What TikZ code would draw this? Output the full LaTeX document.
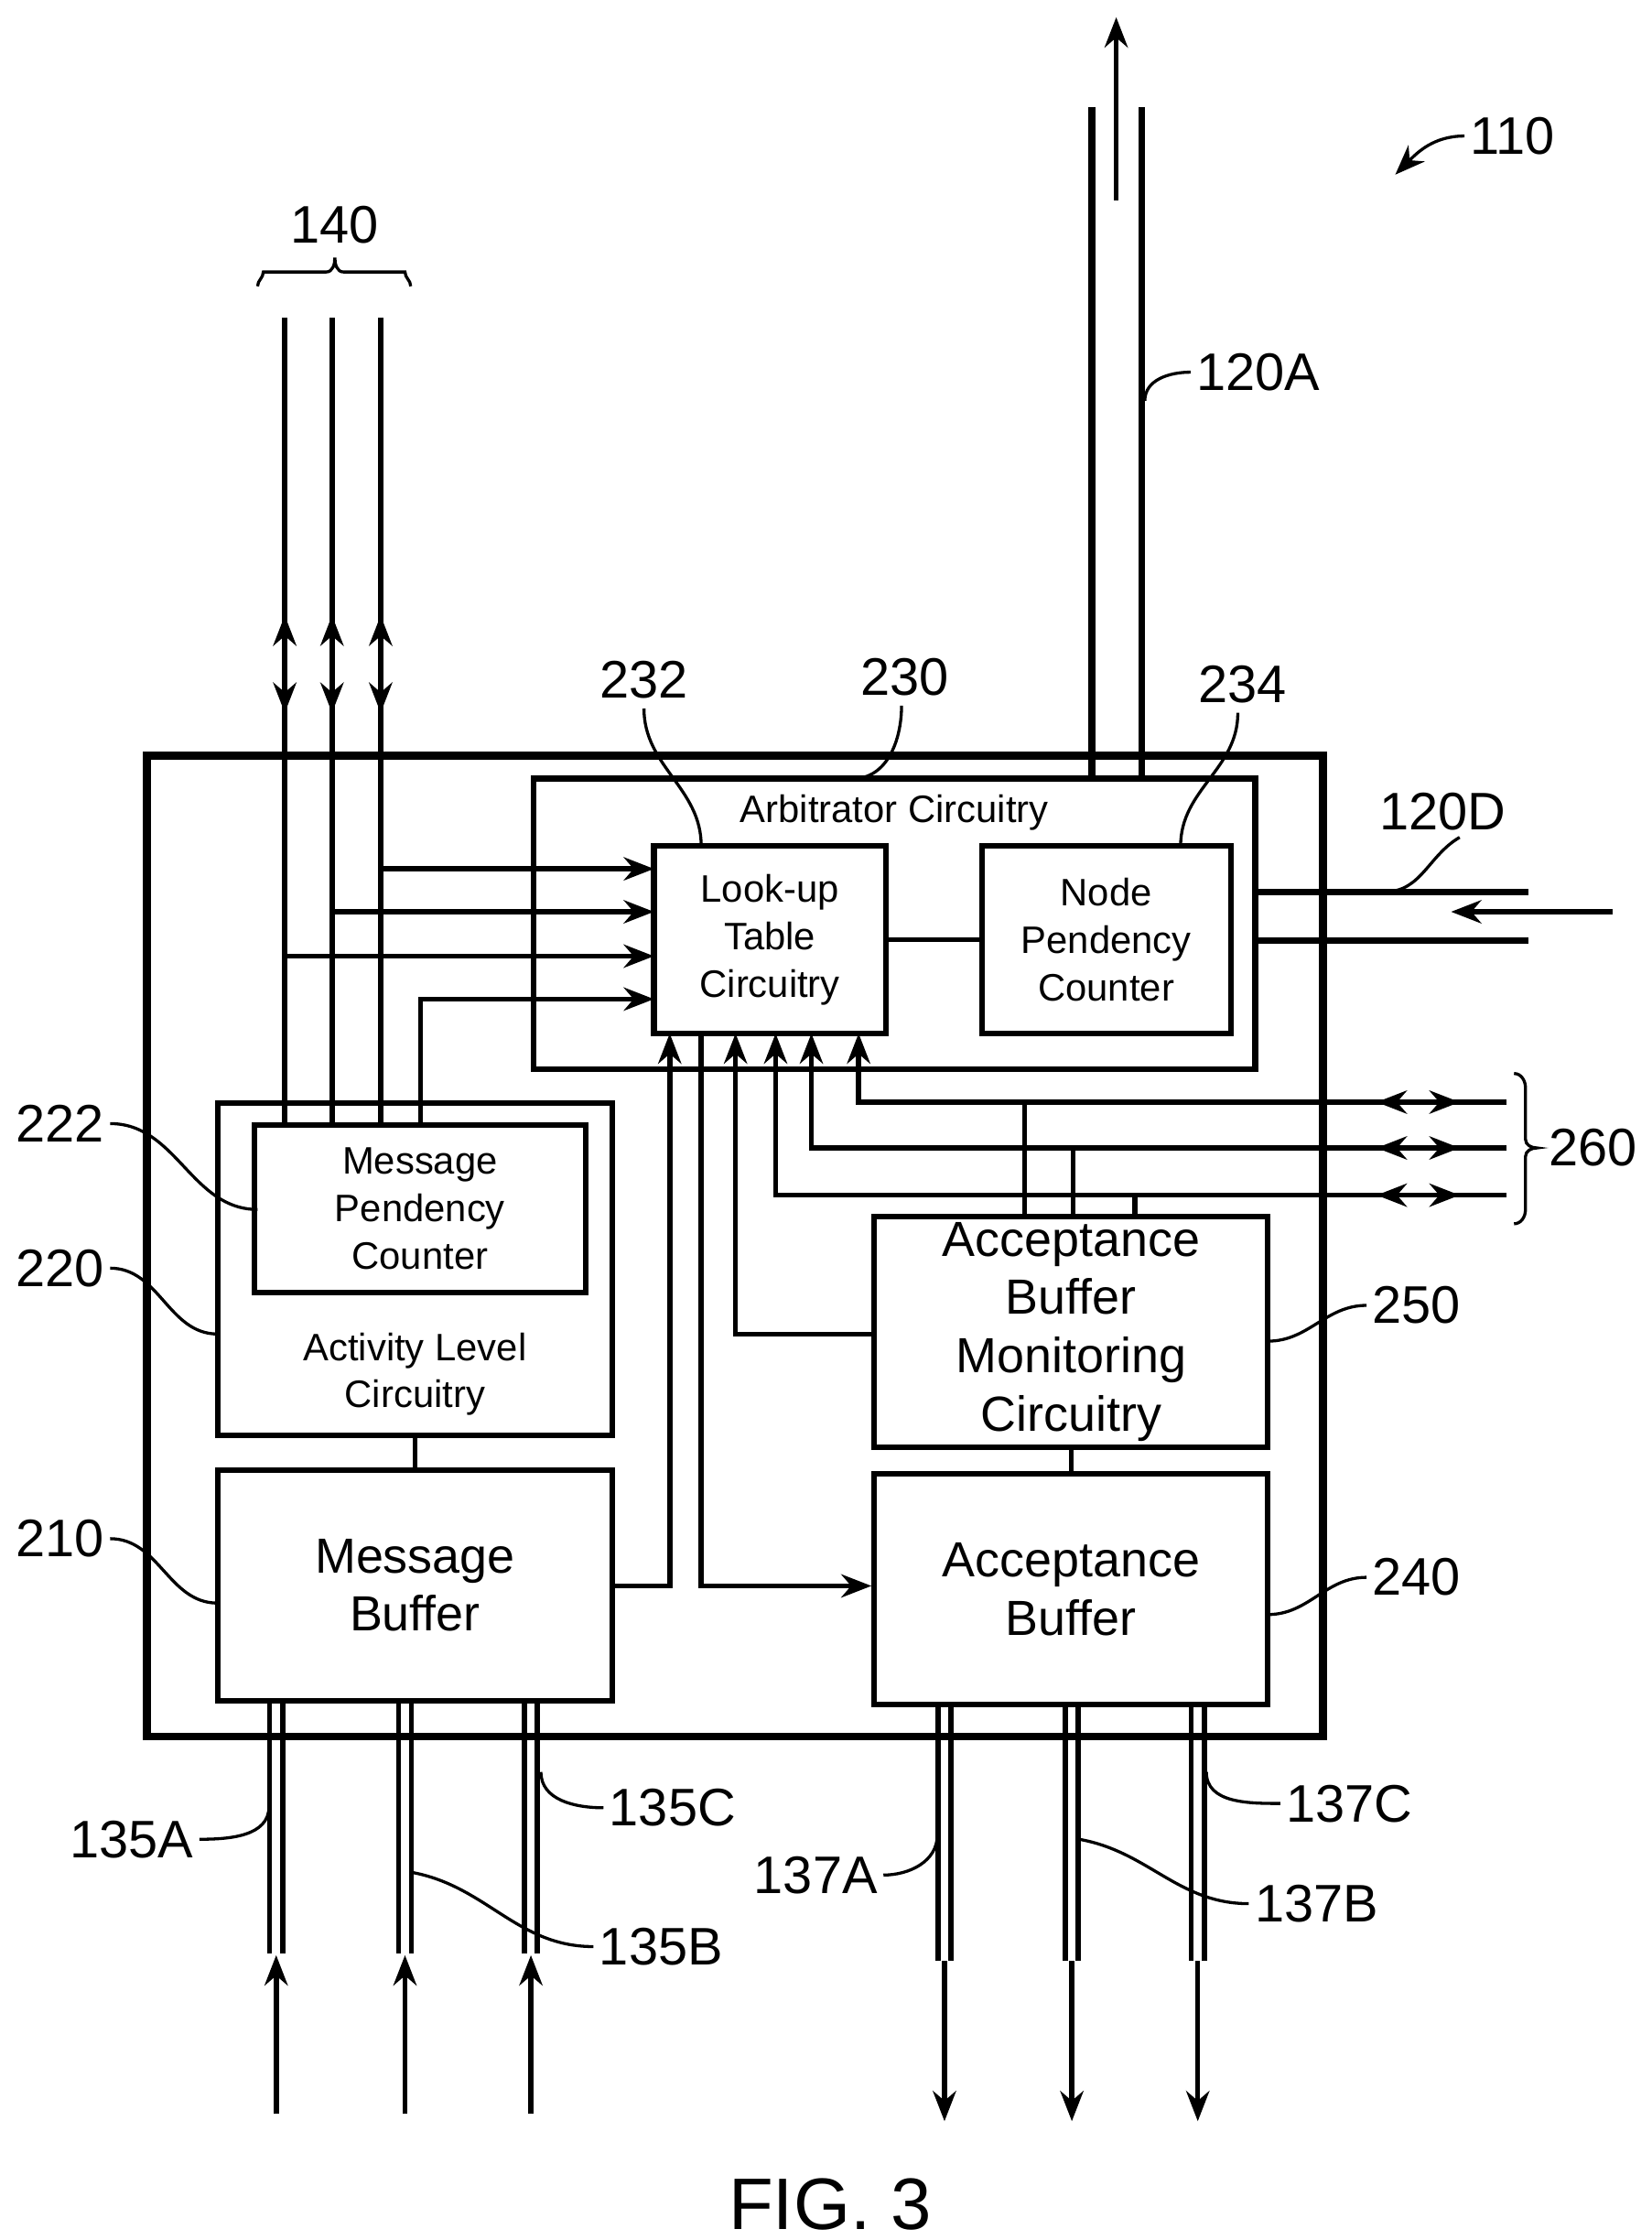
\documentclass[tikz,border=0pt]{standalone}
\usepackage{fontspec}
\setmainfont{Liberation Sans}
\usepackage{tikz}
\usetikzlibrary{calc, positioning, arrows.meta}
\tikzstyle{blk}=[draw, line width=1.1pt, inner sep=0pt, align=center, font=\fontsize{7.6}{9.4}\selectfont]
\tikzstyle{lbl}=[inner sep=1pt, font=\fontsize{10.5}{12}\selectfont]
\tikzstyle{ldr}=[line width=0.6pt]
\tikzstyle{bus}=[line width=1.3pt]
\tikzstyle{wire}=[line width=1pt]
\tikzset{>={Stealth[length=6pt,width=4.6pt]}}

\begin{document}
\begin{tikzpicture}[x=0.01cm, y=-0.01cm]
\useasboundingbox (0,0) rectangle (1154,1565);
% the blocks
\node[blk, line width=1.6pt, minimum width=8.21cm, minimum height=6.85cm] (node) at (513.5,870.5) {};
\node[blk, minimum width=5.04cm, minimum height=2.03cm] (arb) at (625,645.5) {};
\node[blk, draw=none, anchor=center] (arbT) at (625,568) {Arbitrator Circuitry};
\node[blk, minimum width=1.62cm, minimum height=1.31cm] (lut) at (538,656.5) {Look-up\\Table\\Circuitry};
\node[blk, minimum width=1.74cm, minimum height=1.31cm] (npc) at (773,656.5) {Node\\Pendency\\Counter};
\node[blk, minimum width=2.76cm, minimum height=2.32cm] (alc) at (290,887) {};
\node[blk, draw=none] (alcT) at (290,960) {Activity Level\\Circuitry};
\node[blk, minimum width=2.31cm, minimum height=1.17cm] (mpc) at (293.5,844.5) {Message\\Pendency\\Counter};
\node[blk, font=\fontsize{9.8}{11.6}\selectfont, minimum width=2.76cm, minimum height=1.61cm] (mb) at (290,1107.5) {Message\\Buffer};
\node[blk, font=\fontsize{9.8}{11.6}\selectfont, minimum width=2.75cm, minimum height=1.61cm] (abm) at (748.5,930.5) {Acceptance\\Buffer\\Monitoring\\Circuitry};
\node[blk, font=\fontsize{9.8}{11.6}\selectfont, minimum width=2.75cm, minimum height=1.61cm] (ab) at (748.5,1110.5) {Acceptance\\Buffer};
% links between blocks
\draw[wire] (lut.east) -- (npc.west);
\draw[wire] (alc.south) -- (mb.north);
\draw[wire] (abm.south) -- (ab.north);
% the 140 lines
\foreach \x/\n in {199/a, 232/b, 266/c} {
  \coordinate (t\n) at (\x,222);
  \draw[wire] (t\n) -- (\x,786);
  \draw[wire,->] (\x,462) -- (\x,430);
  \draw[wire,->] (\x,468) -- (\x,498);
}
\coordinate (r1) at (457,607);
\coordinate (r2) at (457,637);
\coordinate (r3) at (457,668);
\coordinate (r4) at (457,698);
\draw[wire,->] (266,607) -- (r1);
\draw[wire,->] (232,637) -- (r2);
\draw[wire,->] (199,668) -- (r3);
\draw[wire,->] (294,786) -- (294,698) -- (r4);
\draw[ldr] (180,200) to[out=90,in=-90] (184,190) -- (228,190) to[out=0,in=-90] (234,180) to[out=-90,in=180] (240,190) -- (283,190) to[out=-90,in=90] (287,200);
\node[lbl] (l140) at (234,157) {140};
% 120A
\draw[bus] (763,75) -- (763,544);
\draw[bus] (798,75) -- (798,544);
\draw[wire,->] (780,140) -- (780,12);
\node[lbl, anchor=west] (l120A) at (832,260) {120A};
\draw[ldr] (l120A.west) to[out=180,in=90] (800,280);
% 120D
\draw[bus] (arb.east |- 0,623) -- (1068,623);
\draw[bus] (arb.east |- 0,657) -- (1068,657);
\draw[wire,->] (1127,637) -- (1014,637);
\node[lbl, anchor=west] (l120D) at (960,567) {120D};
\draw[ldr] (1020,585) to[out=-150,in=0] (968,623);
% the 260 lines
\coordinate (u1) at (600,722);
\coordinate (u2) at (567,722);
\coordinate (u3) at (542,722);
\draw[wire,->] (1053,770) -- (600,770) -- (u1);
\draw[wire,->] (1053,802) -- (567,802) -- (u2);
\draw[wire,->] (1053,835) -- (542,835) -- (u3);
\foreach \y in {770,802,835} {
  \draw[wire,->] (990,\y) -- (962,\y);
  \draw[wire,->] (990,\y) -- (1020,\y);
}
\draw[wire] (716,850) -- (716,770);
\draw[wire] (750,850) -- (750,802);
\draw[wire] (793,850) -- (793,835);
\draw[ldr] (1058,750) to[out=0,in=90] (1066,760) -- (1066,796) to[out=-90,in=180] (1074,802) to[out=180,in=90] (1066,808) -- (1066,845) to[out=-90,in=0] (1058,855);
\node[lbl] (l260) at (1113,802) {260};
% buffer and monitor paths
\draw[wire,->] (abm.west |- 0,932) -- (514,932) -- (514,722);
\draw[wire,->] (mb.east |- 0,1108) -- (468,1108) -- (468,722);
\draw[wire,->] (490,722) -- (490,1108) -- (ab.west |- 0,1108);
% inputs 135
\foreach \x/\n in {193/A, 283/B, 371/C} {
  \draw[wire] (\x-4.5,1188) -- (\x-4.5,1365);
  \draw[wire] (\x+4.5,1188) -- (\x+4.5,1365);
  \coordinate (i\n) at (\x,1477);
  \draw[wire,->] (i\n) -- (\x,1366);
}
% outputs 137
\foreach \x/\n in {660/A, 749/B, 837/C} {
  \draw[wire] (\x-4.5,1191) -- (\x-4.5,1370);
  \draw[wire] (\x+4.5,1191) -- (\x+4.5,1370);
  \coordinate (o\n) at (\x,1482);
  \draw[wire,->] (\x,1370) -- (o\n);
}
% reference labels
\node[lbl] (l110) at (1057,95) {110};
\draw[ldr,->] (l110.west) to[out=180,in=45] (975,122);
\node[lbl] (l232) at (450,475) {232};
\draw[ldr] (450,495) to[out=-90,in=90] (490,591);
\node[lbl] (l230) at (632,473) {230};
\draw[ldr] (630,493) to[out=-90,in=0] (596,544);
\node[lbl] (l234) at (868,478) {234};
\draw[ldr] (865,498) to[out=-90,in=90] (825,591);
\node[lbl] (l222) at (42,785) {222};
\draw[ldr] (l222.east) to[out=0,in=180] (180,845);
\node[lbl] (l220) at (42,886) {220};
\draw[ldr] (l220.east) to[out=0,in=180] (152,932);
\node[lbl] (l210) at (42,1075) {210};
\draw[ldr] (l210.east) to[out=0,in=180] (152,1120);
\node[lbl] (l250) at (990,912) {250};
\draw[ldr] (886,937) to[out=0,in=180] (l250.west);
\node[lbl] (l240) at (990,1102) {240};
\draw[ldr] (886,1128) to[out=0,in=180] (l240.west);
\node[lbl] (l135A) at (92,1285) {135A};
\draw[ldr] (l135A.east) to[out=0,in=-90] (188,1262);
\node[lbl] (l135C) at (470,1263) {135C};
\draw[ldr] (l135C.west) to[out=180,in=-90] (378,1238);
\node[lbl] (l135B) at (462,1360) {135B};
\draw[ldr] (287,1308) to[out=-10,in=180] (l135B.west);
\node[lbl] (l137A) at (570,1310) {137A};
\draw[ldr] (l137A.east) to[out=0,in=-90] (655,1282);
\node[lbl] (l137B) at (920,1330) {137B};
\draw[ldr] (754,1285) to[out=-10,in=180] (l137B.west);
\node[lbl] (l137C) at (943,1260) {137C};
\draw[ldr] (l137C.west) to[out=180,in=-90] (843,1238);
\node[font=\fontsize{14.5}{16}\selectfont] (fig) at (580,1540) {FIG. 3};
\end{tikzpicture}
\end{document}
